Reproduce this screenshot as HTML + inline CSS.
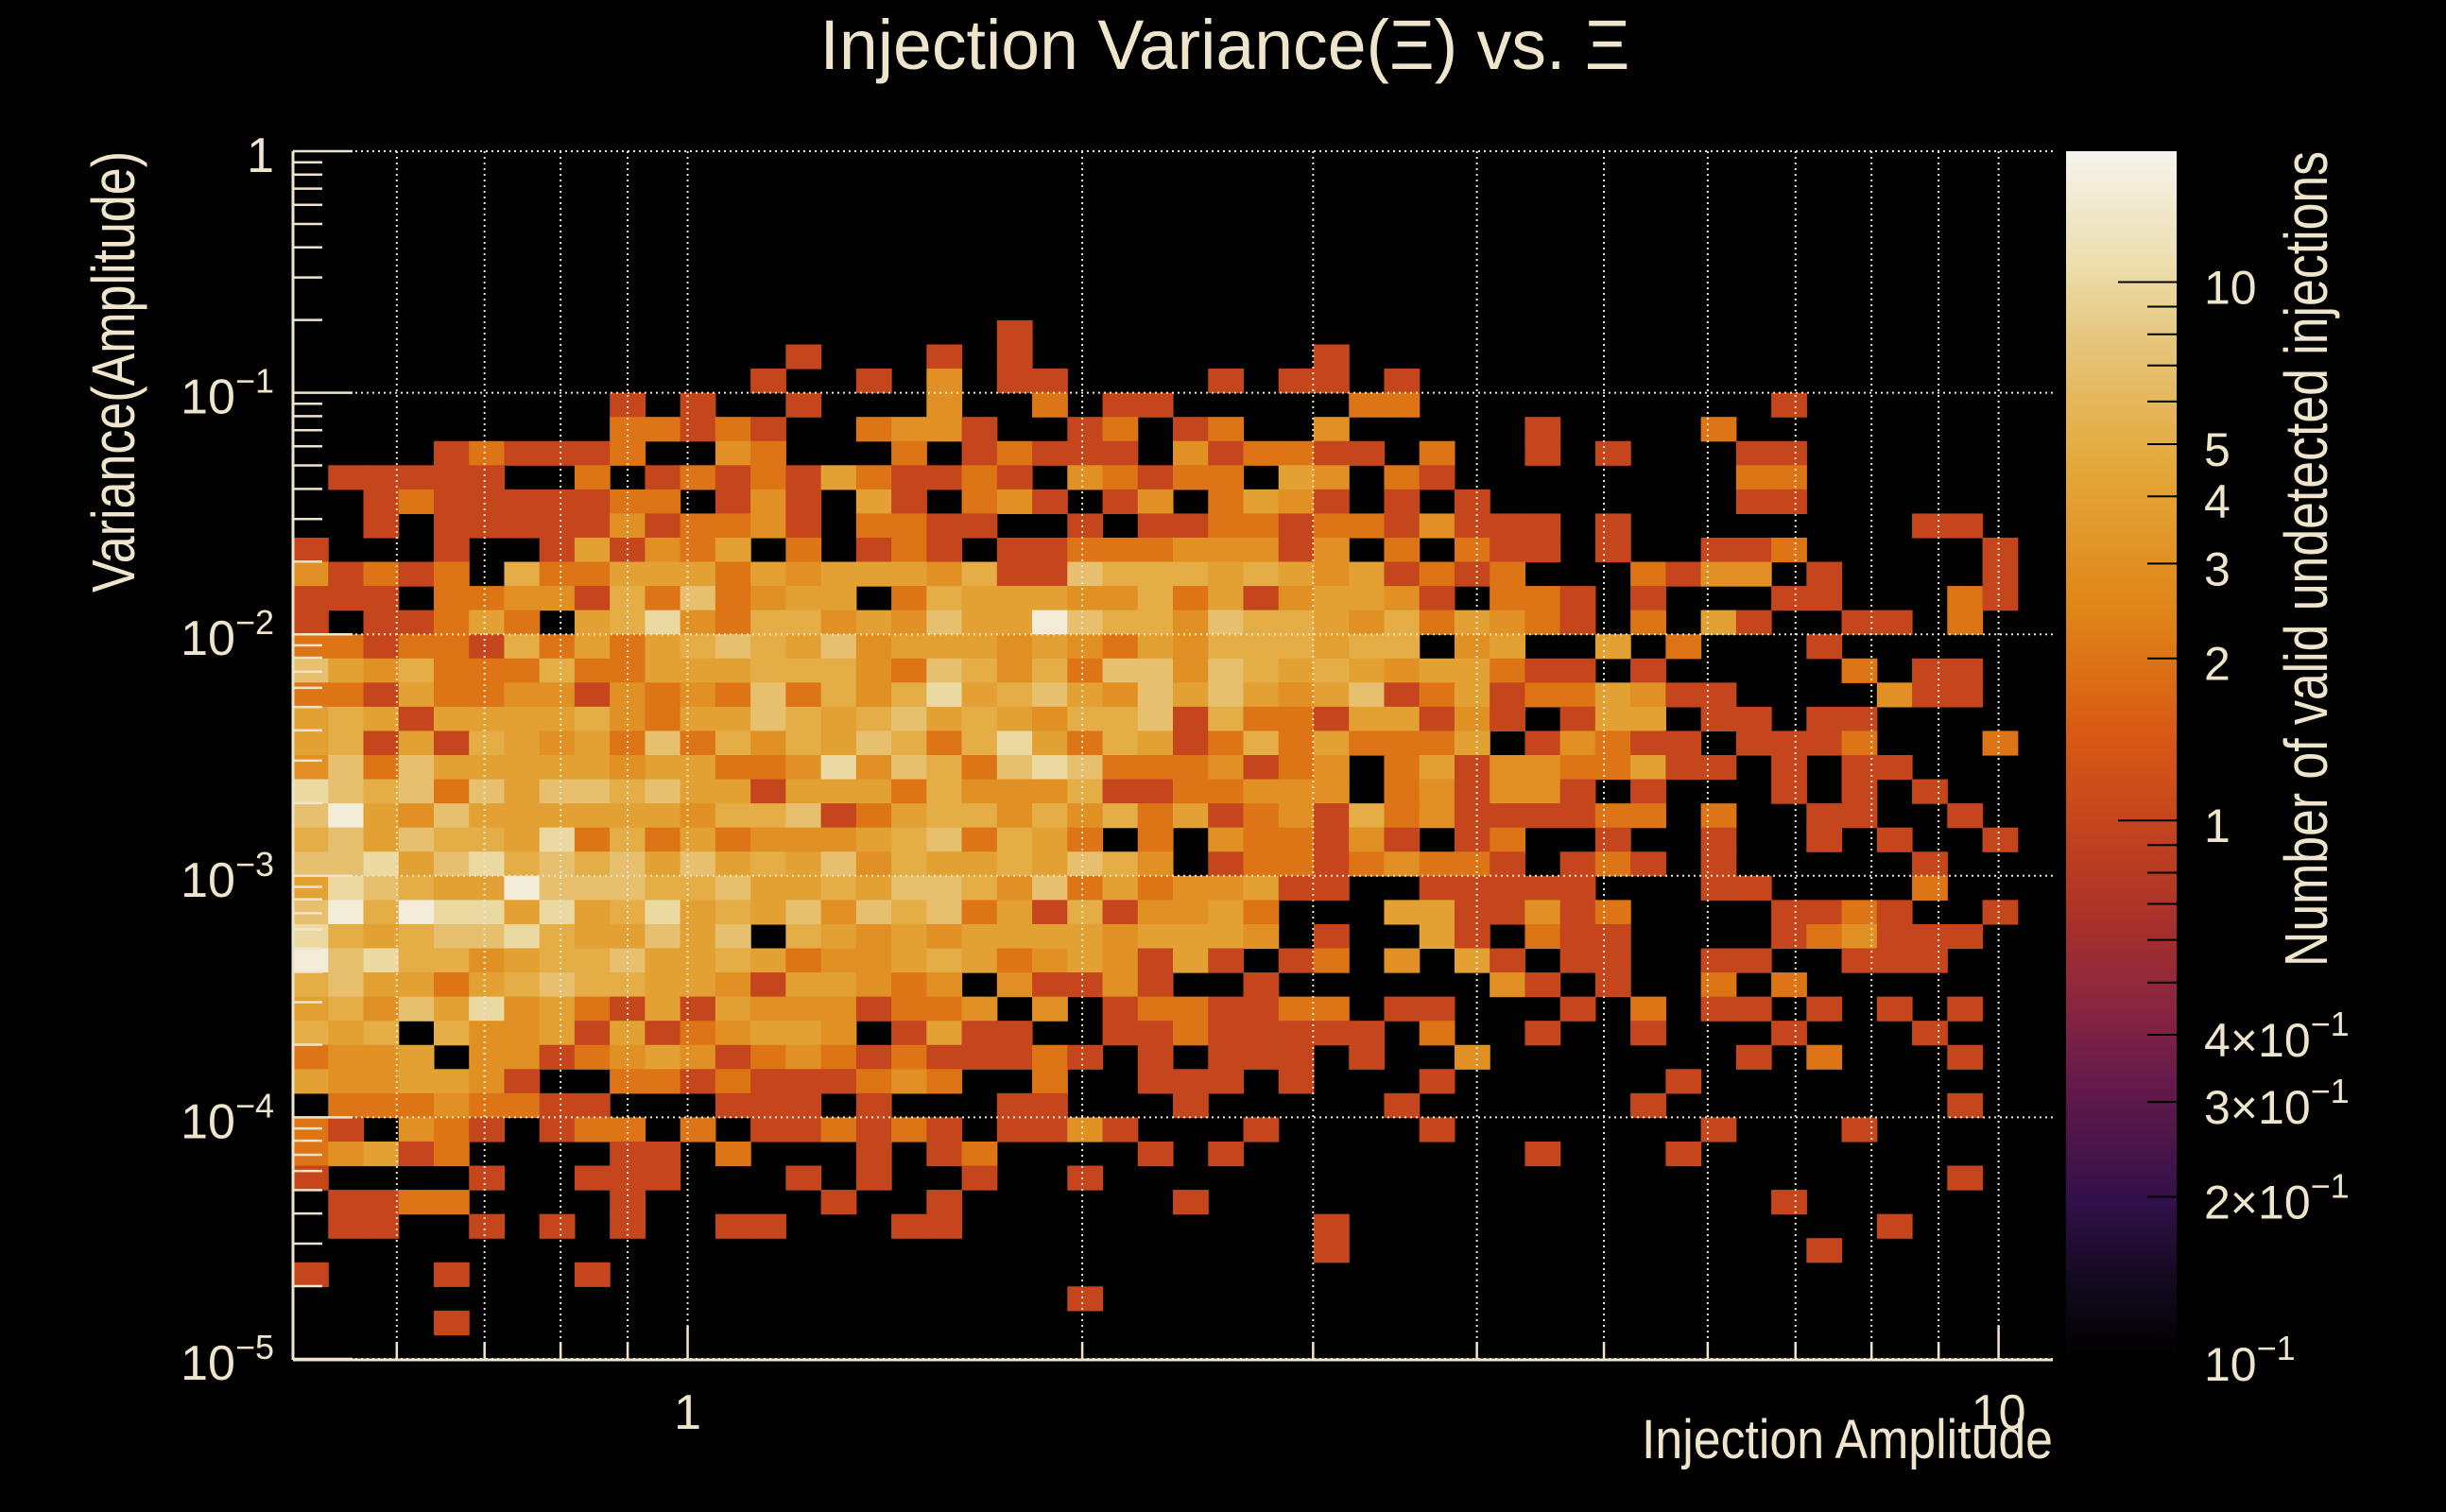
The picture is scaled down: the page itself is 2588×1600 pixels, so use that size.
<!DOCTYPE html>
<html><head><meta charset="utf-8"><style>
html,body{margin:0;padding:0;background:#000;}
svg{display:block;}
text{font-family:"Liberation Sans",sans-serif;fill:#efe5cc;}
</style></head>
<body>
<svg id="chart" width="2588" height="1600" viewBox="0 0 2588 1600" xmlns="http://www.w3.org/2000/svg">
<rect x="0" y="0" width="2588" height="1600" fill="#000"/>
<defs>
<linearGradient id="pal" x1="0" y1="1" x2="0" y2="0">
<stop offset="0" stop-color="#000000"/><stop offset="0.067" stop-color="#140a20"/><stop offset="0.13" stop-color="#32104a"/><stop offset="0.23" stop-color="#661a4a"/><stop offset="0.294" stop-color="#8a2640"/><stop offset="0.36" stop-color="#a8302a"/><stop offset="0.44" stop-color="#c4441e"/><stop offset="0.52" stop-color="#d85a14"/><stop offset="0.617" stop-color="#e08418"/><stop offset="0.74" stop-color="#e4a83a"/><stop offset="0.84" stop-color="#e6c47a"/><stop offset="0.9" stop-color="#ecdca8"/><stop offset="1" stop-color="#f5f3ee"/>
</linearGradient>
</defs>
<g id="cells"></g>
<g id="grid"></g>
<g id="axes"></g>
<rect x="2186" y="160" width="117" height="1278" fill="url(#pal)"/>
<g id="cbaxis"></g>
<text x="1296" y="73" font-size="74" text-anchor="middle" textLength="857" lengthAdjust="spacingAndGlyphs">Injection Variance(Ξ) vs. Ξ</text>
<text transform="translate(142,160) rotate(-90)" font-size="64" text-anchor="end" textLength="467" lengthAdjust="spacingAndGlyphs">Variance(Amplitude)</text>
<text x="2172" y="1543" font-size="58" text-anchor="end" textLength="435" lengthAdjust="spacingAndGlyphs">Injection Amplitude</text>
<text transform="translate(2462,160) rotate(-90)" font-size="64" text-anchor="end" textLength="863" lengthAdjust="spacingAndGlyphs">Number of valid undetected injections</text>
</svg>
<script>
const xRange = [0.5, 11];
const yRange = [1e-5, 1];
const nBinsX = 50;
const nBinsY = 50;
const zRange = [0.1, 17.5];
const xTickValues = [1, 10];
const xTickLabels = ["1", "10"];
const yTickExponents = [0, -1, -2, -3, -4, -5];
const zTickValues = [10, 5, 4, 3, 2, 1, 0.4, 0.3, 0.2, 0.1];
const zTickMantissa = ["10", "5", "4", "3", "2", "1", "4", "3", "2", ""];
const countsRow00 = [0,0,0,0,0,0,0,0,0,0,0,0,0,0,0,0,0,0,0,0,0,0,0,0,0,0,0,0,0,0,0,0,0,0,0,0,0,0,0,0,0,0,0,0,0,0,0,0,0,0];
const countsRow01 = [0,0,0,0,0,0,0,0,0,0,0,0,0,0,0,0,0,0,0,0,0,0,0,0,0,0,0,0,0,0,0,0,0,0,0,0,0,0,0,0,0,0,0,0,0,0,0,0,0,0];
const countsRow02 = [0,0,0,0,0,0,0,0,0,0,0,0,0,0,0,0,0,0,0,0,0,0,0,0,0,0,0,0,0,0,0,0,0,0,0,0,0,0,0,0,0,0,0,0,0,0,0,0,0,0];
const countsRow03 = [0,0,0,0,0,0,0,0,0,0,0,0,0,0,0,0,0,0,0,0,0,0,0,0,0,0,0,0,0,0,0,0,0,0,0,0,0,0,0,0,0,0,0,0,0,0,0,0,0,0];
const countsRow04 = [0,0,0,0,0,0,0,0,0,0,0,0,0,0,0,0,0,0,0,0,0,0,0,0,0,0,0,0,0,0,0,0,0,0,0,0,0,0,0,0,0,0,0,0,0,0,0,0,0,0];
const countsRow05 = [0,0,0,0,0,0,0,0,0,0,0,0,0,0,0,0,0,0,0,0,0,0,0,0,0,0,0,0,0,0,0,0,0,0,0,0,0,0,0,0,0,0,0,0,0,0,0,0,0,0];
const countsRow06 = [0,0,0,0,0,0,0,0,0,0,0,0,0,0,0,0,0,0,0,0,0,0,0,0,0,0,0,0,0,0,0,0,0,0,0,0,0,0,0,0,0,0,0,0,0,0,0,0,0,0];
const countsRow07 = [0,0,0,0,0,0,0,0,0,0,0,0,0,0,0,0,0,0,0,0,1,0,0,0,0,0,0,0,0,0,0,0,0,0,0,0,0,0,0,0,0,0,0,0,0,0,0,0,0,0];
const countsRow08 = [0,0,0,0,0,0,0,0,0,0,0,0,0,0,1,0,0,0,1,0,1,0,0,0,0,0,0,0,0,1,0,0,0,0,0,0,0,0,0,0,0,0,0,0,0,0,0,0,0,0];
const countsRow09 = [0,0,0,0,0,0,0,0,0,0,0,0,0,1,0,0,1,0,3,0,1,1,0,0,0,0,1,0,1,1,0,1,0,0,0,0,0,0,0,0,0,0,0,0,0,0,0,0,0,0];
const countsRow10 = [0,0,0,0,0,0,0,0,0,1,0,1,0,0,1,0,0,0,3,0,0,2,0,1,1,0,0,0,0,0,2,2,0,0,0,0,0,0,0,0,0,0,1,0,0,0,0,0,0,0];
const countsRow11 = [0,0,0,0,0,0,0,0,0,2,2,1,2,1,0,0,2,3,3,1,0,0,1,2,0,1,2,0,0,3,0,0,0,0,0,1,0,0,0,0,2,0,0,0,0,0,0,0,0,0];
const countsRow12 = [0,0,0,0,1,2,1,1,1,2,0,0,3,2,0,0,0,2,0,1,2,1,1,1,0,3,1,2,2,1,1,0,2,0,0,1,0,1,0,0,0,1,1,0,0,0,0,0,0,0];
const countsRow13 = [0,1,1,1,1,1,0,0,2,0,1,2,1,2,1,4,2,1,1,2,1,0,3,2,1,2,2,0,4,3,0,2,1,0,0,0,0,0,0,0,0,2,2,0,0,0,0,0,0,0];
const countsRow14 = [0,0,1,2,1,1,1,1,1,2,2,0,1,3,1,0,4,1,0,2,3,1,0,1,3,0,2,4,3,1,0,1,0,1,0,0,0,0,0,0,0,1,1,0,0,0,0,0,0,0];
const countsRow15 = [0,0,1,0,1,1,1,1,1,3,1,2,2,3,1,0,2,2,1,1,0,0,1,0,1,1,2,2,1,2,2,1,3,1,1,1,0,1,0,0,0,0,0,0,0,0,1,1,0,0];
const countsRow16 = [1,0,0,0,1,0,0,1,4,1,3,2,4,0,2,0,1,2,1,0,1,1,2,2,2,3,3,3,1,3,0,2,0,2,1,1,0,1,0,0,1,1,2,0,0,0,0,0,1,0];
const countsRow17 = [3,1,2,1,2,0,5,2,2,4,4,4,2,4,3,4,4,4,3,5,1,1,7,5,5,5,4,5,4,3,4,1,2,1,2,0,0,0,2,1,3,3,0,1,0,0,0,0,1,0];
const countsRow18 = [1,1,1,0,2,2,3,3,1,5,2,7,2,3,4,4,0,2,5,4,4,4,3,3,5,2,4,1,3,4,4,3,1,0,2,2,1,0,1,0,0,0,1,1,0,0,0,2,1,0];
const countsRow19 = [1,0,1,1,2,4,2,0,4,5,10,3,2,5,5,3,4,3,7,4,4,15,7,5,5,3,7,5,5,4,3,5,2,4,3,2,1,0,2,0,4,1,0,0,1,1,0,2,0,0];
const countsRow20 = [2,2,1,2,2,1,5,2,4,2,4,5,7,5,4,7,3,4,4,4,3,4,3,2,4,3,5,5,5,4,5,5,0,3,4,0,0,4,0,2,0,0,0,1,0,0,0,0,0,0];
const countsRow21 = [7,4,3,5,2,2,2,5,2,2,4,4,4,5,5,5,3,2,7,5,3,5,2,7,7,3,7,5,4,5,4,3,4,4,2,1,1,0,1,0,0,0,0,0,2,0,1,1,0,0];
const countsRow22 = [2,2,1,4,2,2,3,3,1,3,2,3,2,7,2,5,3,5,10,4,5,7,4,3,7,4,7,4,3,4,7,1,2,4,1,2,2,4,3,1,1,0,0,0,0,3,1,1,0,0];
const countsRow23 = [4,5,4,1,4,4,4,4,5,3,2,4,4,7,5,4,5,7,4,5,4,3,5,5,7,1,5,2,2,1,4,4,1,3,1,0,1,4,4,0,1,1,0,1,1,0,0,0,0,0];
const countsRow24 = [4,5,1,4,1,5,4,3,4,2,7,2,5,3,5,4,7,5,2,5,10,4,2,5,4,1,2,5,2,4,2,2,2,4,0,1,3,2,1,1,0,1,1,1,2,0,0,0,2,0];
const countsRow25 = [3,7,2,7,4,4,4,4,4,3,4,4,2,2,3,10,3,7,5,2,7,10,7,2,2,2,3,1,2,3,0,2,4,1,3,3,2,2,4,1,1,0,1,0,1,1,0,0,0,0];
const countsRow26 = [10,7,5,7,2,7,4,7,7,5,7,4,4,1,4,4,4,2,5,3,3,3,5,1,1,2,2,3,3,3,0,2,3,1,3,3,1,0,1,0,0,0,1,0,1,0,1,0,0,0];
const countsRow27 = [7,15,4,3,7,4,4,4,4,4,4,3,5,5,7,1,2,4,5,5,3,5,3,5,2,4,1,2,3,1,5,2,3,1,1,1,1,2,2,0,2,0,0,1,1,0,0,1,0,0];
const countsRow28 = [5,7,4,7,5,5,4,10,2,5,2,4,2,3,3,3,4,5,7,2,5,4,2,0,2,0,3,2,2,1,3,1,0,1,2,0,0,1,0,0,1,0,0,1,0,1,0,0,1,0];
const countsRow29 = [7,7,10,4,7,10,5,7,5,7,4,7,4,5,4,7,3,5,4,4,5,4,7,5,3,0,1,2,2,1,2,3,2,2,1,0,1,2,1,0,1,0,0,0,0,0,1,0,0,0];
const countsRow30 = [4,10,7,5,4,4,15,7,7,7,5,5,7,4,4,5,4,7,7,5,3,7,2,4,2,3,3,4,1,1,0,0,1,1,1,1,1,0,0,0,1,1,0,0,0,0,2,0,0,0];
const countsRow31 = [7,15,5,15,10,10,4,10,4,5,10,4,5,4,7,3,7,5,7,2,4,1,5,1,3,3,4,2,0,0,0,4,4,1,1,3,1,2,0,0,0,0,1,1,2,1,0,0,1,0];
const countsRow32 = [10,5,4,5,7,7,10,5,4,4,7,4,7,0,5,4,3,4,3,4,4,4,4,3,4,4,4,3,0,1,0,0,4,1,0,2,1,1,0,0,0,0,1,2,3,1,1,1,0,0];
const countsRow33 = [15,7,10,5,5,3,4,5,5,7,4,4,5,4,2,3,3,4,5,4,2,3,4,3,1,4,1,0,1,2,0,3,0,4,1,0,1,1,0,0,1,1,0,0,1,1,1,0,0,0];
const countsRow34 = [5,7,4,4,2,4,5,7,5,5,4,4,3,1,4,4,3,2,3,0,3,1,1,3,1,0,0,1,0,0,0,0,0,0,3,1,0,1,0,0,2,0,2,0,0,0,0,0,0,0];
const countsRow35 = [4,5,3,7,4,10,3,4,2,1,4,1,4,3,3,3,1,2,2,3,0,3,0,1,2,2,1,1,2,2,0,1,1,0,0,0,1,0,2,0,1,1,0,1,0,1,0,1,0,0];
const countsRow36 = [5,4,5,0,5,3,3,4,1,4,1,2,3,4,4,3,0,1,4,1,1,0,0,1,1,2,1,1,1,1,1,0,2,0,0,1,0,0,1,0,0,0,1,0,0,0,1,0,0,0];
const countsRow37 = [2,3,3,4,0,3,3,1,2,3,4,3,1,2,3,2,1,2,1,1,1,2,1,0,1,0,1,1,1,0,1,0,0,3,0,0,0,0,0,0,0,1,0,2,0,0,0,1,0,0];
const countsRow38 = [4,3,3,4,4,3,1,0,0,2,2,1,2,1,1,1,2,3,2,0,0,2,0,0,1,1,1,0,1,0,0,0,1,0,0,0,0,0,0,1,0,0,0,0,0,0,0,0,0,0];
const countsRow39 = [0,2,2,2,3,2,2,1,1,0,0,0,1,1,1,0,1,0,0,0,1,1,0,0,0,1,0,0,0,0,0,1,0,0,0,0,0,0,1,0,0,0,0,0,0,0,0,1,0,0];
const countsRow40 = [2,1,0,3,2,1,0,1,2,2,0,2,0,1,1,2,1,2,1,0,1,1,3,1,0,0,0,1,0,0,0,0,1,0,0,0,0,0,0,0,1,0,0,0,1,0,0,0,0,0];
const countsRow41 = [2,3,4,1,2,0,0,0,0,1,1,0,2,0,0,0,1,0,1,2,0,0,0,0,1,0,1,0,0,0,0,0,0,0,0,1,0,0,0,1,0,0,0,0,0,0,0,0,0,0];
const countsRow42 = [1,0,0,0,0,1,0,0,1,1,1,0,0,0,1,0,1,0,0,1,0,0,1,0,0,0,0,0,0,0,0,0,0,0,0,0,0,0,0,0,0,0,0,0,0,0,0,1,0,0];
const countsRow43 = [0,1,1,2,2,0,0,0,0,1,0,0,0,0,0,1,0,0,1,0,0,0,0,0,0,1,0,0,0,0,0,0,0,0,0,0,0,0,0,0,0,0,1,0,0,0,0,0,0,0];
const countsRow44 = [0,1,1,0,0,1,0,1,0,1,0,0,1,1,0,0,0,1,1,0,0,0,0,0,0,0,0,0,0,1,0,0,0,0,0,0,0,0,0,0,0,0,0,0,0,1,0,0,0,0];
const countsRow45 = [0,0,0,0,0,0,0,0,0,0,0,0,0,0,0,0,0,0,0,0,0,0,0,0,0,0,0,0,0,1,0,0,0,0,0,0,0,0,0,0,0,0,0,1,0,0,0,0,0,0];
const countsRow46 = [1,0,0,0,1,0,0,0,1,0,0,0,0,0,0,0,0,0,0,0,0,0,0,0,0,0,0,0,0,0,0,0,0,0,0,0,0,0,0,0,0,0,0,0,0,0,0,0,0,0];
const countsRow47 = [0,0,0,0,0,0,0,0,0,0,0,0,0,0,0,0,0,0,0,0,0,0,1,0,0,0,0,0,0,0,0,0,0,0,0,0,0,0,0,0,0,0,0,0,0,0,0,0,0,0];
const countsRow48 = [0,0,0,0,1,0,0,0,0,0,0,0,0,0,0,0,0,0,0,0,0,0,0,0,0,0,0,0,0,0,0,0,0,0,0,0,0,0,0,0,0,0,0,0,0,0,0,0,0,0];
const countsRow49 = [0,0,0,0,0,0,0,0,0,0,0,0,0,0,0,0,0,0,0,0,0,0,0,0,0,0,0,0,0,0,0,0,0,0,0,0,0,0,0,0,0,0,0,0,0,0,0,0,0,0];
const countsTopDown = [countsRow00,countsRow01,countsRow02,countsRow03,countsRow04,countsRow05,countsRow06,countsRow07,countsRow08,countsRow09,
countsRow10,countsRow11,countsRow12,countsRow13,countsRow14,countsRow15,countsRow16,countsRow17,countsRow18,countsRow19,
countsRow20,countsRow21,countsRow22,countsRow23,countsRow24,countsRow25,countsRow26,countsRow27,countsRow28,countsRow29,
countsRow30,countsRow31,countsRow32,countsRow33,countsRow34,countsRow35,countsRow36,countsRow37,countsRow38,countsRow39,
countsRow40,countsRow41,countsRow42,countsRow43,countsRow44,countsRow45,countsRow46,countsRow47,countsRow48,countsRow49];

const NS = "http://www.w3.org/2000/svg";
const PL = 310, PR = 2172, PT = 160, PB = 1438;
const CBR = 2303;
const CREAM = "#efe5cc";
function xScale(v){ return PL + (Math.log10(v) - Math.log10(xRange[0])) / (Math.log10(xRange[1]) - Math.log10(xRange[0])) * (PR - PL); }
function yScale(v){ return PB - (Math.log10(v) - Math.log10(yRange[0])) / (Math.log10(yRange[1]) - Math.log10(yRange[0])) * (PB - PT); }
function zFrac(z){ return (Math.log10(z) - Math.log10(zRange[0])) / (Math.log10(zRange[1]) - Math.log10(zRange[0])); }
function zScale(z){ return PB - zFrac(z) * (PB - PT); }
const palT = [0,0.067,0.13,0.23,0.294,0.36,0.44,0.52,0.617,0.74,0.84,0.9,1];
const palC = ["#000000","#140a20","#32104a","#661a4a","#8a2640","#a8302a","#c4441e","#d85a14","#e08418","#e4a83a","#e6c47a","#ecdca8","#f5f3ee"];
function hex(c){ return [parseInt(c.slice(1,3),16),parseInt(c.slice(3,5),16),parseInt(c.slice(5,7),16)]; }
function colorFor(z){
  const t = Math.max(0, Math.min(1, zFrac(z)));
  for (let i = 0; i < palT.length - 1; i++) {
    if (t <= palT[i+1]) {
      const f = (t - palT[i]) / (palT[i+1] - palT[i]);
      const a = hex(palC[i]), b = hex(palC[i+1]);
      return "rgb(" + a.map((v,k)=>Math.round(v + (b[k]-v)*f)).join(",") + ")";
    }
  }
  return palC[palC.length-1];
}
function mk(tag, attrs, parent){ const e = document.createElementNS(NS, tag); for (const k in attrs) e.setAttribute(k, attrs[k]); parent.appendChild(e); return e; }

const cellsG = document.getElementById("cells");
const lx0 = Math.log10(xRange[0]), lx1 = Math.log10(xRange[1]);
const ly0 = Math.log10(yRange[0]), ly1 = Math.log10(yRange[1]);
for (let r = 0; r < countsTopDown.length; r++) {
  const row = countsTopDown[r];
  const yb = nBinsY - 1 - r;
  const yLo = Math.pow(10, ly0 + (ly1 - ly0) * yb / nBinsY);
  const yHi = Math.pow(10, ly0 + (ly1 - ly0) * (yb + 1) / nBinsY);
  for (let c = 0; c < row.length; c++) {
    const z = row[c];
    if (!(z > 0)) continue;
    const xLo = Math.pow(10, lx0 + (lx1 - lx0) * c / nBinsX);
    const xHi = Math.pow(10, lx0 + (lx1 - lx0) * (c + 1) / nBinsX);
    const x = xScale(xLo), w = xScale(xHi) - x, y = yScale(yHi), h = yScale(yLo) - y;
    const el = mk("rect", {x: x.toFixed(2), y: y.toFixed(2), width: (w + 0.6).toFixed(2), height: (h + 0.6).toFixed(2), fill: colorFor(z)}, cellsG);
    
    
  }
}

const gridG = document.getElementById("grid");
const xGridVals = [0.6,0.7,0.8,0.9,1,2,3,4,5,6,7,8,9,10];
xGridVals.forEach(v => {
  const el = mk("line", {x1: xScale(v), x2: xScale(v), y1: PT, y2: PB, stroke: CREAM, "stroke-width": 2, "stroke-dasharray": "2 4"}, gridG);
  
  
});
yTickExponents.forEach(e => {
  const el = mk("line", {x1: PL, x2: PR, y1: yScale(Math.pow(10, e)), y2: yScale(Math.pow(10, e)), stroke: CREAM, "stroke-width": 2, "stroke-dasharray": "2 4"}, gridG);
  
  
});

const axG = document.getElementById("axes");
const a1 = mk("line", {x1: PL, x2: PL, y1: PT, y2: PB + 1, stroke: CREAM, "stroke-width": 3}, axG);


const a2 = mk("line", {x1: PL, x2: PR, y1: PB + 1, y2: PB + 1, stroke: CREAM, "stroke-width": 3}, axG);


for (let e = -5; e <= 0; e++) {
  const y = yScale(Math.pow(10, e));
  const t = mk("line", {x1: PL, x2: PL + 63, y1: y, y2: y, stroke: CREAM, "stroke-width": 2.5}, axG);
  
  
  if (e < 0) for (let m = 2; m <= 9; m++) {
    const ym = yScale(m * Math.pow(10, e));
    const tm = mk("line", {x1: PL, x2: PL + 31, y1: ym, y2: ym, stroke: CREAM, "stroke-width": 2.5}, axG);
    
    
  }
}
yTickExponents.forEach(e => {
  const y = yScale(Math.pow(10, e)) + 22;
  const tx = mk("text", {x: 290, y: y, "font-size": 52, "text-anchor": "end"}, axG);
  
  
  if (e === 0) { tx.textContent = "1"; }
  else {
    const s1 = document.createElementNS(NS, "tspan"); s1.textContent = "10"; tx.appendChild(s1);
    const s2 = document.createElementNS(NS, "tspan"); s2.setAttribute("dy", "-22"); s2.setAttribute("font-size", "36"); s2.textContent = "\u2212" + (-e); tx.appendChild(s2);
  }
});
const xMinorVals = [0.6,0.7,0.8,0.9,2,3,4,5,6,7,8,9];
xMinorVals.forEach(v => {
  const t = mk("line", {x1: xScale(v), x2: xScale(v), y1: PB, y2: PB - 18, stroke: CREAM, "stroke-width": 2.5}, axG);
  
  
});
xTickValues.forEach((v, i) => {
  const t = mk("line", {x1: xScale(v), x2: xScale(v), y1: PB, y2: PB - 35, stroke: CREAM, "stroke-width": 2.5}, axG);
  
  
  const tx = mk("text", {x: xScale(v), y: 1512, "font-size": 52, "text-anchor": "middle"}, axG);
  tx.textContent = xTickLabels[i];
  
  
});

const cbG = document.getElementById("cbaxis");
const cbMinor = [0.2,0.3,0.4,0.5,0.6,0.7,0.8,0.9,2,3,4,5,6,7,8,9];
cbMinor.forEach(v => {
  const y = zScale(v);
  const t = mk("line", {x1: CBR, x2: CBR - 31, y1: y, y2: y, stroke: "#000", "stroke-width": 2}, cbG);
  
  
});
[1, 10].forEach(v => {
  const y = zScale(v);
  const t = mk("line", {x1: CBR, x2: CBR - 62, y1: y, y2: y, stroke: "#000", "stroke-width": 2}, cbG);
  
  
});
zTickValues.forEach((v, i) => {
  const y = zScale(v) + 23;
  const tx = mk("text", {x: 2332, y: y, "font-size": 50}, cbG);
  
  
  if (v >= 1) { tx.textContent = zTickMantissa[i]; }
  else {
    const pre = zTickMantissa[i] ? zTickMantissa[i] + "\u00d7" : "";
    const s1 = document.createElementNS(NS, "tspan"); s1.textContent = pre + "10"; tx.appendChild(s1);
    const s2 = document.createElementNS(NS, "tspan"); s2.setAttribute("dy", "-22"); s2.setAttribute("font-size", "36"); s2.textContent = "\u22121"; tx.appendChild(s2);
  }
});
</script>
</body></html>
